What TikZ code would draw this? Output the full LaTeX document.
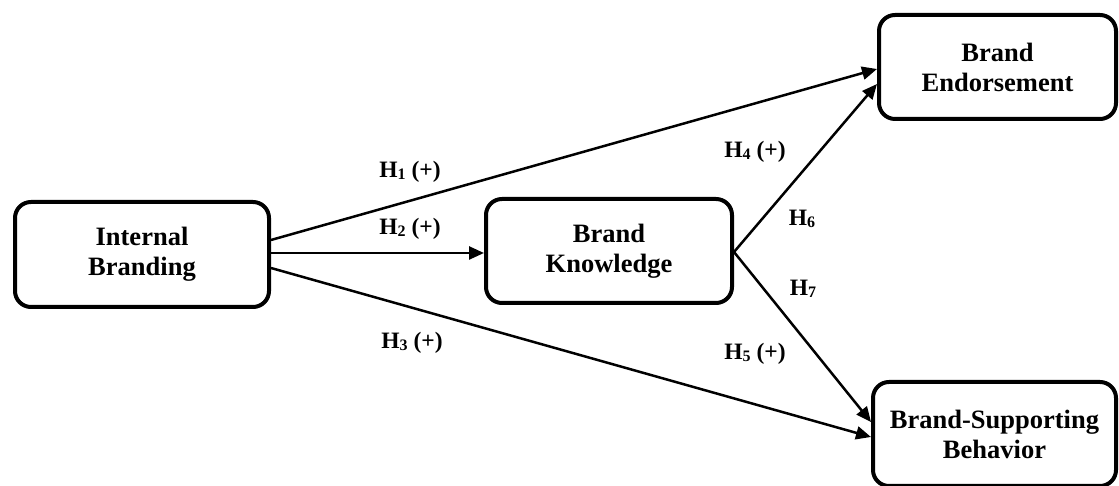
\documentclass[tikz,border=0pt]{standalone}
\usepackage{fontspec}
\setmainfont{Liberation Serif}
\usetikzlibrary{arrows.meta}
\newcommand\hs[1]{\raisebox{-2pt}{\fontsize{16}{16}\selectfont #1}}
\begin{document}
\begin{tikzpicture}[x=1pt,y=1pt,
 box/.style={draw, line width=4pt, rounded corners=16pt, align=center,
   font=\fontsize{26.5}{30}\selectfont\bfseries, inner sep=0pt},
 arr/.style={line width=2.5pt, -{Triangle[length=15pt,width=13pt]}},
 hyp/.style={font=\fontsize{23.5}{26}\selectfont\bfseries, inner sep=0pt}]
\useasboundingbox (0,0) rectangle (1119,486);
\node[box, minimum width=254pt, minimum height=105pt] (ib) at (142,231.5) {Internal\\Branding};
\node[box, minimum width=246pt, minimum height=104pt] (bk) at (609,235) {Brand\\Knowledge};
\node[box, minimum width=237pt, minimum height=104pt] (be) at (997.5,419) {Brand\\Endorsement};
\node[box, minimum width=243pt, minimum height=104pt] (bsb) at (994.5,52) {Brand-Supporting\\Behavior};
\draw[arr] ([yshift=14.5pt]ib.east) -- ([yshift=-2pt]be.west);
\draw[arr] ([yshift=1.5pt]ib.east) -- ([yshift=-2pt]bk.west);
\draw[arr] ([yshift=-13.5pt]ib.east) -- ([yshift=-3pt]bsb.west);
\draw[arr] ([yshift=-1pt]bk.east) -- ([yshift=-17pt]be.west);
\draw[arr] ([yshift=-1pt]bk.east) -- ([yshift=12pt]bsb.west);
\node[hyp] (h1) at (410,314) {H\hs{1} (+)};
\node[hyp] (h2) at (410,257) {H\hs{2} (+)};
\node[hyp] (h3) at (412,143) {H\hs{3} (+)};
\node[hyp] (h4) at (755,334) {H\hs{4} (+)};
\node[hyp] (h6) at (802,267) {H\hs{6}};
\node[hyp] (h7) at (803,197) {H\hs{7}};
\node[hyp] (h5) at (755,132) {H\hs{5} (+)};
\end{tikzpicture}
\end{document}
